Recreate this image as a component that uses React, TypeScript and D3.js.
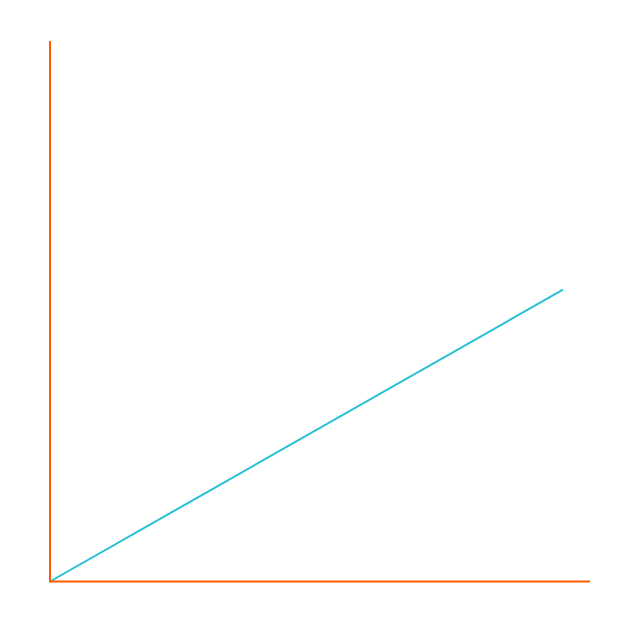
import React from "react";
import * as d3 from "d3";

const xValues = [0, 95];
const yValues = [0, 54];
const xDomain = [0, 100];
const yDomain = [0, 100];

export default function App() {
  const width = 640;
  const height = 640;
  const left = 50, right = 590, top = 41, bottom = 581.5;
  const x = d3.scaleLinear().domain(xDomain).range([left, right]);
  const y = d3.scaleLinear().domain(yDomain).range([bottom, top]);
  const line = d3
    .line<number>()
    .x((_, i) => x(xValues[i]))
    .y((d) => y(d));
  return (
    <svg
      width={width}
      height={height}
      style={{ position: "absolute", left: 0, top: 0, background: "#fff" }}
    >
      <path d={line(yValues) || ""} fill="none" stroke="#26c0d3" strokeWidth={2} />
      <line x1={x(0)} x2={x(0)} y1={y(100)} y2={y(0)} stroke="#ff5a00" strokeWidth={2} />
      <line x1={x(0) - 1} x2={x(100)} y1={y(0)} y2={y(0)} stroke="#ff5a00" strokeWidth={2} />
    </svg>
  );
}
